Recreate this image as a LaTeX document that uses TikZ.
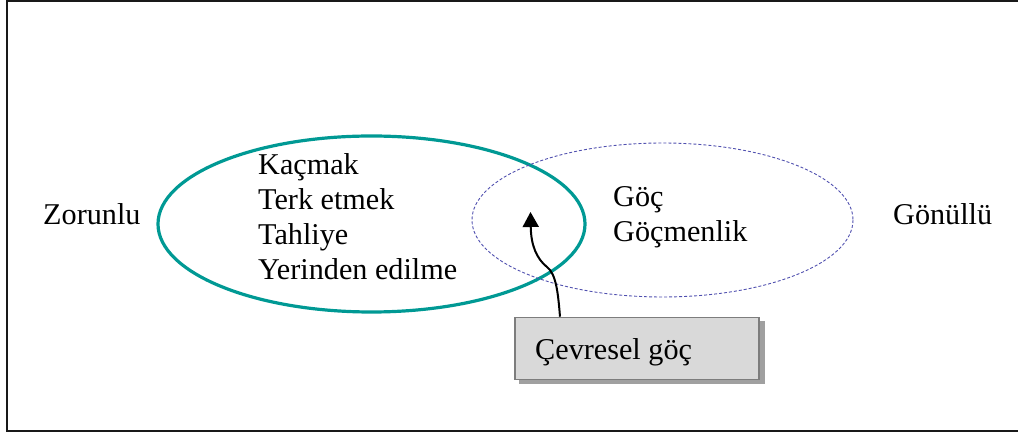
\documentclass[tikz,border=0pt]{standalone}
\usepackage{fontspec}
\setmainfont{Liberation Serif}
\usetikzlibrary{arrows.meta}
\definecolor{tealline}{RGB}{0,153,148}
\definecolor{dashblue}{RGB}{80,80,175}
\definecolor{boxfill}{RGB}{217,217,217}
\definecolor{boxedge}{RGB}{125,125,125}
\definecolor{boxshadow}{RGB}{160,160,160}
\tikzset{
  label/.style={font=\fontsize{30.2}{34}\selectfont, anchor=base west, inner sep=0pt},
  frame/.style={line width=2pt, draw=black!90},
  forced/.style={draw=tealline, line width=3.2pt},
  voluntary/.style={draw=dashblue, line width=0.9pt, dash pattern=on 3pt off 2pt},
  greybox/.style={draw=boxedge, fill=boxfill, line width=1.6pt, minimum width=244pt,
    minimum height=62pt, inner sep=0pt},
  link/.style={line width=2pt, -{Triangle[length=15pt,width=16pt]}}
}
\begin{document}
\begin{tikzpicture}[x=1pt, y=-1pt]
\useasboundingbox (0,0) rectangle (1018,435);
% outer frame
\draw[frame] (7,1.5) rectangle (1020,431.5);

% forced / voluntary ellipses
\draw[forced] (371.5,224) ellipse (213.5 and 88);
\draw[voluntary] (662.5,220) ellipse (190.5 and 77);

% side labels
\node[label] (zorunlu) at (43,225) {Zorunlu};
\node[label] (gonullu) at (893,225) {Gönüllü};

% contents of the forced ellipse
\node[label] (kacmak) at (258,175) {Kaçmak};
\node[label] (terk) at (258,210) {Terk etmek};
\node[label] (tahliye) at (258,245) {Tahliye};
\node[label] (yerinden) at (258,279.5) {Yerinden edilme};

% contents of the voluntary ellipse
\node[label] (goc) at (613,207) {Göç};
\node[label] (gocmenlik) at (613,242) {Göçmenlik};

% environmental migration box with shadow
\fill[boxshadow] (519,321) rectangle (765,384);
\node[greybox] (cevresel) at (637,348.5) {};
\node[label] (cevreselt) at (535,360) {Çevresel göç};

\coordinate (tip) at (530.5,212);
\draw[link] (cevresel.north west -| 560,0) .. controls (558,292) and (556,274) .. (547,267)
  .. controls (537,259) and (531,246) .. (tip);
\end{tikzpicture}
\end{document}
